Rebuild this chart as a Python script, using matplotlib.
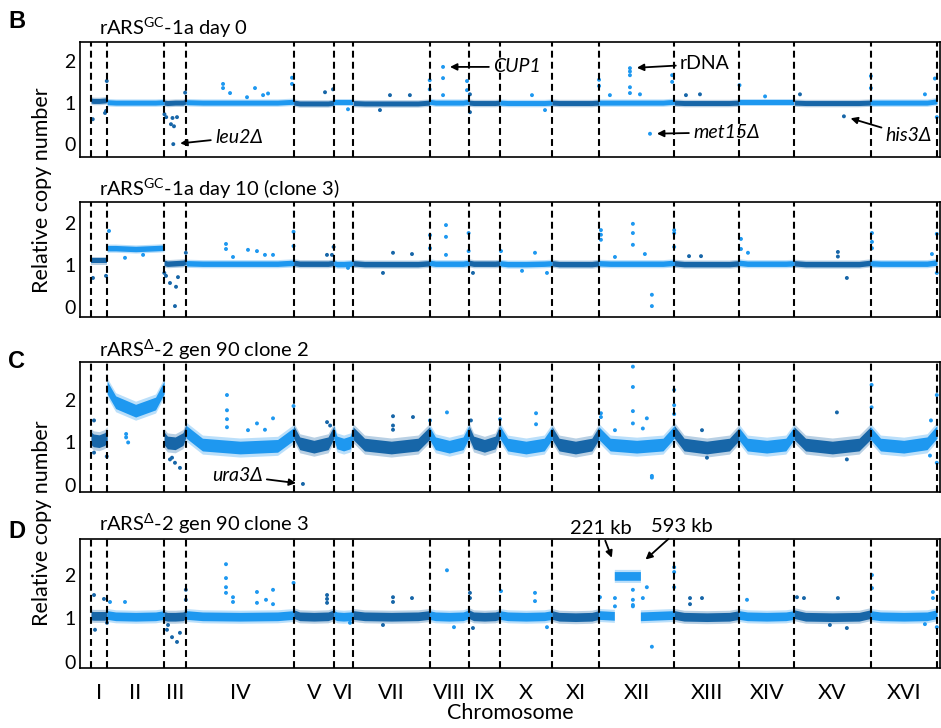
import numpy as np
import matplotlib
matplotlib.use('Agg')
import matplotlib.pyplot as plt

plt.rcParams['font.family'] = ['Lato', 'DejaVu Sans']
plt.rcParams['mathtext.fontset'] = 'custom'
plt.rcParams['mathtext.rm'] = 'Lato'
plt.rcParams['mathtext.it'] = 'Lato:italic'

# yeast chromosomes and sizes (kb)
chrom_names = ['I', 'II', 'III', 'IV', 'V', 'VI', 'VII', 'VIII', 'IX', 'X',
               'XI', 'XII', 'XIII', 'XIV', 'XV', 'XVI']
chrom_len_kb = [230, 813, 317, 1532, 577, 270, 1091, 563, 440, 746, 667,
                1078, 924, 784, 1091, 948]

# band centre read at these fractions along each chromosome
band_frac = [0.0, 0.15, 0.5, 0.85, 1.0]

b0_band = [[1.05, 1.04, 1.04, 1.05, 1.06], [1.01, 1.0, 1.0, 1.0, 1.01],
           [1.0, 0.99, 1.0, 1.0, 1.03], [1.01, 1.0, 1.0, 1.0, 1.02],
           [1.0, 0.98, 0.98, 0.98, 1.0], [1.0, 1.0, 1.0, 1.0, 1.0],
           [0.99, 0.98, 0.98, 0.98, 1.0], [1.02, 1.0, 1.0, 1.0, 1.02],
           [1.0, 0.99, 0.99, 0.99, 1.0], [1.0, 0.99, 0.99, 0.99, 1.0],
           [1.0, 0.99, 0.99, 0.99, 1.0], [1.0, 1.0, 1.0, 1.0, 1.02],
           [1.0, 0.99, 0.99, 0.99, 1.0], [1.0, 1.0, 1.0, 1.0, 1.0],
           [1.0, 0.99, 0.99, 0.99, 1.0], [1.0, 1.0, 1.0, 1.0, 1.03]]

b10_band = [[1.1, 1.1, 1.1, 1.1, 1.1], [1.4, 1.4, 1.38, 1.4, 1.41],
            [1.05, 1.03, 1.04, 1.05, 1.08], [1.04, 1.03, 1.03, 1.03, 1.05],
            [1.05, 1.03, 1.03, 1.03, 1.05], [1.04, 1.02, 1.02, 1.03, 1.04],
            [1.04, 1.02, 1.02, 1.02, 1.04], [1.05, 1.03, 1.03, 1.03, 1.05],
            [1.05, 1.03, 1.03, 1.03, 1.04], [1.04, 1.02, 1.02, 1.03, 1.04],
            [1.04, 1.02, 1.02, 1.02, 1.04], [1.04, 1.03, 1.03, 1.03, 1.05],
            [1.04, 1.02, 1.02, 1.02, 1.04], [1.05, 1.03, 1.03, 1.03, 1.04],
            [1.04, 1.02, 1.02, 1.02, 1.05], [1.04, 1.03, 1.03, 1.03, 1.06]]

c2_band = [[1.1, 1.05, 1.03, 1.08, 1.15], [2.3, 1.95, 1.75, 1.92, 2.3],
           [1.1, 1.0, 0.98, 1.08, 1.3], [1.25, 0.95, 0.88, 0.92, 1.2],
           [1.25, 0.98, 0.9, 0.98, 1.25], [1.2, 1.0, 0.95, 1.0, 1.2],
           [1.22, 0.95, 0.88, 0.95, 1.22], [1.22, 0.98, 0.9, 0.98, 1.25],
           [1.25, 1.0, 0.92, 1.0, 1.25], [1.25, 0.95, 0.88, 0.95, 1.22],
           [1.22, 0.95, 0.88, 0.95, 1.22], [1.22, 0.95, 0.9, 0.95, 1.25],
           [1.25, 0.95, 0.88, 0.95, 1.2], [1.2, 0.95, 0.9, 0.95, 1.22],
           [1.22, 0.95, 0.88, 0.95, 1.22], [1.22, 0.95, 0.9, 0.98, 1.25]]

d3_band = [[1.07, 1.06, 1.06, 1.06, 1.08], [1.08, 1.05, 1.04, 1.05, 1.08],
           [1.06, 1.04, 1.04, 1.05, 1.1], [1.08, 1.05, 1.04, 1.05, 1.08],
           [1.1, 1.05, 1.04, 1.05, 1.1], [1.08, 1.05, 1.04, 1.05, 1.08],
           [1.08, 1.05, 1.04, 1.05, 1.08], [1.08, 1.05, 1.04, 1.05, 1.1],
           [1.1, 1.05, 1.04, 1.05, 1.08], [1.08, 1.05, 1.04, 1.05, 1.08],
           [1.08, 1.04, 1.03, 1.04, 1.08], None,
           [1.08, 1.04, 1.03, 1.04, 1.08], [1.08, 1.05, 1.04, 1.05, 1.08],
           [1.1, 1.04, 1.03, 1.04, 1.1], [1.08, 1.05, 1.04, 1.05, 1.1]]
# clone 3: chr XII segment 221-593 kb duplicated
d3_xii_kb = [0, 221, 221, 593, 593, 1078]
d3_xii_val = [1.08, 1.06, 1.98, 1.98, 1.05, 1.08]

# outlying bins: (chromosome, kb, relative copy number)
b0_points = [('I', 25, 0.6), ('I', 200, 0.75), ('I', 215, 0.8), ('I', 225, 1.52),
             ('III', 5, 0.72), ('III', 30, 0.65), ('III', 98, 0.48), ('III', 120, 0.63),
             ('III', 141, 0.43), ('III', 184, 0.65), ('III', 131, 0.0), ('III', 300, 1.24),
             ('IV', 524, 1.35), ('IV', 524, 1.45), ('IV', 624, 1.23), ('IV', 866, 1.13),
             ('IV', 980, 1.35), ('IV', 1095, 1.18), ('IV', 1166, 1.22), ('IV', 1508, 1.6),
             ('IV', 1508, 1.45), ('V', 447, 1.25), ('V', 561, 1.32), ('VI', 198, 0.84),
             ('VII', 384, 0.82), ('VII', 527, 1.18), ('VII', 811, 1.18),
             ('VIII', 3, 1.54), ('VIII', 3, 1.32), ('VIII', 193, 1.86), ('VIII', 193, 1.59),
             ('VIII', 193, 1.18), ('VIII', 535, 1.52), ('VIII', 535, 1.3),
             ('IX', 14, 0.77), ('IX', 14, 1.2), ('X', 459, 1.18), ('X', 645, 0.82),
             ('XII', 3, 1.55), ('XII', 3, 1.4), ('XII', 444, 1.83), ('XII', 444, 1.75),
             ('XII', 444, 1.66), ('XII', 444, 1.37), ('XII', 444, 1.23), ('XII', 587, 1.2),
             ('XII', 158, 1.18), ('XII', 730, 0.25), ('XII', 1046, 1.66), ('XII', 1046, 1.5),
             ('XIII', 165, 1.18), ('XIII', 365, 1.2), ('XIV', 5, 1.42), ('XIV', 370, 1.15),
             ('XV', 84, 1.2), ('XV', 711, 0.67), ('XVI', 5, 1.64), ('XVI', 5, 1.35),
             ('XVI', 776, 1.2), ('XVI', 918, 1.58), ('XVI', 945, 0.65)]

b10_points = [('I', 28, 0.69), ('I', 214, 0.74), ('II', 27, 1.81), ('II', 255, 1.17),
              ('II', 513, 1.24), ('III', 3, 0.81), ('III', 27, 0.74), ('III', 84, 0.57),
              ('III', 170, 0.48), ('III', 198, 0.71), ('III', 155, 0.02), ('III', 310, 1.29),
              ('IV', 566, 1.5), ('IV', 566, 1.38), ('IV', 666, 1.19), ('IV', 880, 1.36),
              ('IV', 1008, 1.33), ('IV', 1122, 1.24), ('IV', 1237, 1.24), ('IV', 1530, 1.79),
              ('IV', 1530, 1.45), ('V', 475, 1.24), ('V', 546, 1.24), ('V', 570, 1.43),
              ('VI', 198, 0.93), ('VII', 427, 0.81), ('VII', 570, 1.29), ('VII', 841, 1.26),
              ('VIII', 7, 1.71), ('VIII', 7, 1.4), ('VIII', 235, 1.95), ('VIII', 235, 1.67),
              ('VIII', 235, 1.24), ('VIII', 558, 1.76), ('VIII', 558, 1.33), ('IX', 57, 0.81),
              ('X', 17, 1.33), ('X', 317, 0.86), ('X', 502, 1.29), ('X', 673, 0.81),
              ('XII', 30, 1.83), ('XII', 30, 1.72), ('XII', 30, 1.6), ('XII', 230, 1.19),
              ('XII', 486, 1.98), ('XII', 486, 1.76), ('XII', 486, 1.48), ('XII', 657, 1.26),
              ('XII', 757, 0.29), ('XII', 757, 0.02), ('XII', 1075, 1.83), ('XII', 1075, 1.76),
              ('XII', 1075, 1.43), ('XIII', 209, 1.21), ('XIII', 380, 1.21), ('XIV', 26, 1.62),
              ('XIV', 26, 1.38), ('XIV', 126, 1.29), ('XV', 625, 1.31), ('XV', 625, 1.2),
              ('XV', 753, 0.69), ('XVI', 20, 1.76), ('XVI', 20, 1.55), ('XVI', 20, 1.4),
              ('XVI', 876, 1.26), ('XVI', 945, 1.74), ('XVI', 945, 0.81)]

c2_points = [('I', 43, 1.52), ('I', 43, 0.76), ('I', 225, 0.67), ('II', 271, 1.12),
             ('II', 271, 1.2), ('II', 300, 1.0), ('III', 113, 0.64), ('III', 155, 0.52),
             ('III', 226, 0.4), ('III', 84, 0.6), ('IV', 580, 2.12), ('IV', 580, 1.76),
             ('IV', 580, 1.55), ('IV', 580, 1.36), ('IV', 880, 1.29), ('IV', 1008, 1.45),
             ('IV', 1237, 1.57), ('IV', 1122, 1.3), ('IV', 1530, 1.86), ('V', 132, 0.02),
             ('V', 476, 1.48), ('V', 520, 1.4), ('VII', 570, 1.62), ('VII', 570, 1.4),
             ('VII', 570, 1.3), ('VII', 855, 1.6), ('VIII', 7, 1.52), ('VIII', 249, 1.71),
             ('IX', 28, 1.52), ('X', 3, 1.55), ('X', 517, 1.69), ('X', 517, 1.43),
             ('XII', 30, 1.69), ('XII', 30, 1.6), ('XII', 230, 1.29), ('XII', 486, 2.79),
             ('XII', 486, 2.31), ('XII', 486, 1.74), ('XII', 486, 1.45), ('XII', 685, 1.57),
             ('XII', 628, 1.33), ('XII', 757, 0.21), ('XII', 757, 0.17), ('XII', 1075, 2.24),
             ('XII', 1075, 1.88), ('XII', 1075, 1.67), ('XIII', 394, 1.29), ('XIII', 465, 0.64),
             ('XV', 611, 1.71), ('XV', 753, 0.6), ('XVI', 15, 2.36), ('XVI', 15, 1.83),
             ('XVI', 848, 0.69), ('XVI', 945, 2.12), ('XVI', 945, 0.52), ('XVI', 862, 1.52)]

d3_points = [('I', 43, 1.54), ('I', 57, 0.74), ('I', 185, 1.45), ('I', 228, 0.9),
             ('II', 41, 1.38), ('II', 255, 1.38), ('III', 41, 0.74), ('III', 56, 0.85),
             ('III', 113, 0.57), ('III', 184, 0.46), ('III', 226, 0.67), ('III', 310, 1.66),
             ('III', 310, 1.43), ('IV', 566, 2.25), ('IV', 566, 1.93), ('IV', 566, 1.72),
             ('IV', 566, 1.59), ('IV', 666, 1.49), ('IV', 666, 1.38), ('IV', 1008, 1.61),
             ('IV', 1008, 1.36), ('IV', 1137, 1.43), ('IV', 1237, 1.66), ('IV', 1237, 1.33),
             ('IV', 1530, 1.82), ('V', 476, 1.54), ('V', 476, 1.45), ('V', 476, 1.36),
             ('VI', 226, 0.9), ('VII', 570, 1.49), ('VII', 570, 1.38), ('VII', 841, 1.47),
             ('VII', 427, 0.85), ('VIII', 249, 2.11), ('VIII', 349, 0.8), ('IX', 14, 1.59),
             ('IX', 14, 1.47), ('IX', 57, 0.78), ('X', 17, 1.63), ('X', 502, 1.59),
             ('X', 502, 1.4), ('X', 673, 0.8), ('XII', 16, 1.49), ('XII', 230, 1.47),
             ('XII', 230, 1.28), ('XII', 486, 1.66), ('XII', 486, 1.43), ('XII', 486, 1.31),
             ('XII', 486, 1.28), ('XII', 685, 1.72), ('XII', 628, 1.47), ('XII', 757, 0.35),
             ('XII', 1075, 2.18), ('XII', 1075, 2.07), ('XII', 1075, 1.72), ('XIII', 223, 1.47),
             ('XIII', 223, 1.33), ('XIII', 394, 1.47), ('XIV', 112, 1.43), ('XV', 41, 1.49),
             ('XV', 141, 1.47), ('XV', 625, 1.47), ('XV', 753, 0.78), ('XV', 511, 0.85),
             ('XVI', 20, 2.0), ('XVI', 20, 1.7), ('XVI', 890, 1.61), ('XVI', 890, 1.47),
             ('XVI', 776, 0.87), ('XVI', 945, 0.8)]

titles = [r'rARS$^{\mathregular{GC}}$-1a day 0',
          r'rARS$^{\mathregular{GC}}$-1a day 10 (clone 3)',
          r'rARS$^{\mathregular{Δ}}$-2 gen 90 clone 2',
          r'rARS$^{\mathregular{Δ}}$-2 gen 90 clone 3']

dark, light = '#1766a8', '#1e98f0'
chrom_start = np.concatenate([[0], np.cumsum(chrom_len_kb)[:-1]])
genome_end = sum(chrom_len_kb)
cidx = {n: i for i, n in enumerate(chrom_names)}


def gx(name, kb):
    return chrom_start[cidx[name]] + kb


def draw_panel(ax, bands, hw, points, ylim, special=None):
    for i, name in enumerate(chrom_names):
        col = dark if i % 2 == 0 else light
        if bands[i] is None:
            xs = np.array(special[0], float)
            ys = np.array(special[1])
        else:
            xs = np.array(band_frac) * chrom_len_kb[i]
            ys = np.array(bands[i])
        xs = xs + chrom_start[i]
        ax.fill_between(xs, ys - 1.5 * hw, ys + 1.5 * hw, color=col, alpha=0.3, lw=0)
        ax.fill_between(xs, ys - hw, ys + hw, color=col, lw=0)
    px = [gx(n, k) for n, k, v in points]
    py = [v for n, k, v in points]
    pc = [dark if cidx[n] % 2 == 0 else light for n, k, v in points]
    ax.scatter(px, py, s=8, c=pc, lw=0, zorder=2)
    for x in list(chrom_start) + [genome_end]:
        ax.axvline(x, color='k', ls=(0, (3.3, 2)), lw=1.5, zorder=3)
    ax.set_xlim(-157, genome_end + 43)
    ax.set_ylim(*ylim)
    ax.set_yticks([0, 1, 2])
    ax.tick_params(axis='y', length=0, pad=3, labelsize=14)
    ax.tick_params(axis='x', length=0)
    ax.set_xticks([])
    for sp in ax.spines.values():
        sp.set_linewidth(1.2)


fig = plt.figure(figsize=(9.41, 7.28), dpi=100)
W, H = 941.0, 728.0
rects = [(42, 157), (202, 317), (362, 492), (539, 668)]
axes = [fig.add_axes([80 / W, 1 - b / H, 860 / W, (b - t) / H]) for t, b in rects]

draw_panel(axes[0], b0_band, 0.06, b0_points, (-0.31, 2.46))
draw_panel(axes[1], b10_band, 0.065, b10_points, (-0.24, 2.5))
draw_panel(axes[2], c2_band, 0.15, c2_points, (-0.17, 2.9))
draw_panel(axes[3], d3_band, 0.1, d3_points, (-0.14, 2.83), special=(d3_xii_kb, d3_xii_val))

# chromosome labels on the bottom panel
centers = chrom_start + np.array(chrom_len_kb) / 2
axes[3].set_xticks(centers)
axes[3].set_xticklabels(chrom_names, fontsize=15.5)
axes[3].tick_params(axis='x', length=0, pad=11)
axes[3].set_xlabel('Chromosome', fontsize=15.5, labelpad=0)

# panel titles, letters, y labels
for y, t in zip([28, 189, 350, 524], titles):
    fig.text(99 / W, 1 - y / H, t, fontsize=14.5, va='center', ha='left')
for y, t in zip([22, 362, 532], ['B', 'C', 'D']):
    fig.text(8 / W, 1 - y / H, t, fontsize=17, fontweight='bold', va='center',
             family='Liberation Sans')
for y in [190, 523]:
    fig.text(42 / W, 1 - y / H, 'Relative copy number', fontsize=15.5, rotation=90,
             va='center', ha='center')

arrow = dict(arrowstyle='-|>', color='k', lw=1.3, shrinkA=1, shrinkB=5, mutation_scale=10)
ax = axes[0]
ax.annotate('leu2Δ', xy=(gx('III', 131), 0.0), xytext=(30, 5), textcoords='offset points',
            fontsize=14, style='italic', ha='left', va='center', arrowprops=arrow)
ax.annotate('CUP1', xy=(gx('VIII', 193), 1.86), xytext=(36, 0), textcoords='offset points',
            fontsize=14, style='italic', ha='left', va='center', arrowprops=arrow)
ax.annotate('rDNA', xy=(gx('XII', 444), 1.83), xytext=(36, 3), textcoords='offset points',
            fontsize=14, ha='left', va='center', arrowprops=arrow)
ax.annotate('met15Δ', xy=(gx('XII', 730), 0.25), xytext=(31, 1), textcoords='offset points',
            fontsize=14, style='italic', ha='left', va='center', arrowprops=arrow)
ax.annotate('his3Δ', xy=(gx('XV', 711), 0.67), xytext=(30, -14), textcoords='offset points',
            fontsize=14, style='italic', ha='left', va='center', arrowprops=arrow)
axes[2].annotate('ura3Δ', xy=(gx('V', 132), 0.02), xytext=(-29, 6), textcoords='offset points',
                 fontsize=14, style='italic', ha='right', va='center', arrowprops=arrow)
axes[3].annotate('221 kb', xy=(gx('XII', 221), 2.25), xytext=(-10, 26), textcoords='offset points',
                 fontsize=14.5, ha='center', va='center', arrowprops=arrow)
axes[3].annotate('593 kb', xy=(gx('XII', 593), 2.25), xytext=(30, 27), textcoords='offset points',
                 fontsize=14.5, ha='center', va='center', arrowprops=arrow)

fig.savefig('out.png', dpi=100)
